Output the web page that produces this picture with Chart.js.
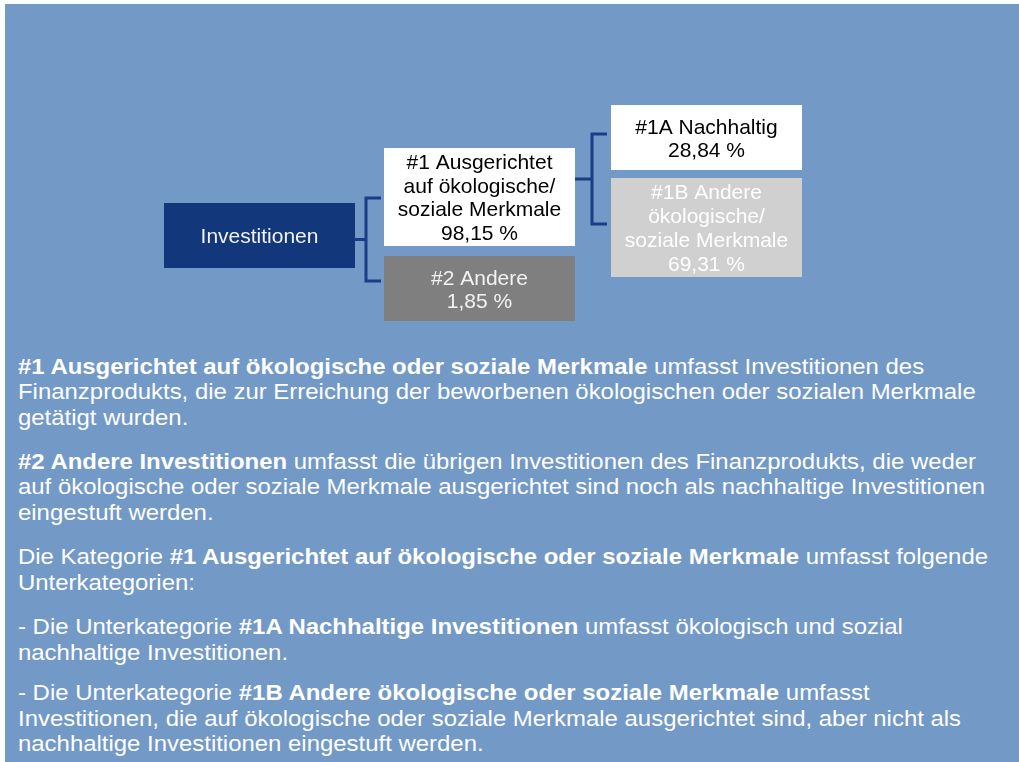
<!DOCTYPE html>
<html lang="de">
<head>
<meta charset="utf-8">
<script src="https://cdn.jsdelivr.net/npm/chart.js@4.4.1/dist/chart.umd.min.js"></script>
<style>
  html, body { margin: 0; padding: 0; background: #ffffff; }
  #page {
    position: absolute; left: 5px; top: 4px; width: 1014px; height: 758px;
    background: #7399c6; overflow: hidden; z-index: 0;
  }
  #diagram { position: absolute; left: 0; top: 0; z-index: 1; }
  .para {
    position: absolute; left: 18px; z-index: 2;
    font-family: "Liberation Sans", Arial, sans-serif;
    font-size: 21.5px; line-height: 25.5px; color: #ffffff;
    white-space: nowrap;
    transform: scaleX(1.113); transform-origin: 0 0;
  }
  .para b { font-weight: bold; }
</style>
</head>
<body>
<div id="page"></div>
<canvas id="diagram" width="1019" height="340"></canvas>

<script>
// Knoten des Baums: Bezeichnung, Anteil (%) und Elternknoten
const nodeLabels = [
  'Investitionen',
  '#1 Ausgerichtet\nauf ökologische/\nsoziale Merkmale',
  '#2 Andere',
  '#1A Nachhaltig',
  '#1B Andere\nökologische/\nsoziale Merkmale'
];
const nodeShares = [null, 98.15, 1.85, 28.84, 69.31];
const nodeParents = [-1, 0, 0, 1, 1];

// Layout der Kästen (in Einheiten der Achsen, 0..1019 x 0..340)
const boxLayout = [
  { x0: 164, x1: 355, y0: 203, y1: 268, fill: '#12387b', text: '#f2f2f2' },
  { x0: 384, x1: 575, y0: 148, y1: 246, fill: '#ffffff', text: '#000000' },
  { x0: 384, x1: 575, y0: 256, y1: 321, fill: '#7f7f7f', text: '#f2f2f2' },
  { x0: 611, x1: 802, y0: 105, y1: 170, fill: '#ffffff', text: '#000000' },
  { x0: 611, x1: 802, y0: 178, y1: 277, fill: '#d0d0d0', text: '#ffffff' }
];
// Verbinder je Elternknoten: Knick-x, obere und untere Stichleitung, Ende vor dem Kind
const linkLayout = {
  0: { xJoin: 366, yTop: 198, yBottom: 281, xEnd: 381 },
  1: { xJoin: 592, yTop: 134, yBottom: 224, xEnd: 607 }
};

function fmtShare(v) {
  return v.toFixed(2).replace('.', ',') + ' %';
}

const treePlugin = {
  id: 'treeBoxes',
  afterDraw(chart) {
    const ctx = chart.ctx;
    const xs = chart.scales.x, ys = chart.scales.y;
    const px = v => xs.getPixelForValue(v);
    const py = v => ys.getPixelForValue(v);

    // Verbindungslinien
    ctx.save();
    ctx.strokeStyle = '#1b3c86';
    ctx.lineWidth = 3;
    Object.keys(linkLayout).forEach(p => {
      const l = linkLayout[p];
      const parent = boxLayout[p];
      const yMid = (l.yTop + l.yBottom) / 2;
      ctx.beginPath();
      ctx.moveTo(px(parent.x1), py(yMid));
      ctx.lineTo(px(l.xJoin), py(yMid));
      ctx.moveTo(px(l.xEnd), py(l.yTop));
      ctx.lineTo(px(l.xJoin), py(l.yTop));
      ctx.lineTo(px(l.xJoin), py(l.yBottom));
      ctx.lineTo(px(l.xEnd), py(l.yBottom));
      ctx.stroke();
    });
    ctx.restore();

    // Kästen mit Text
    nodeLabels.forEach((label, i) => {
      const b = boxLayout[i];
      const x0 = px(b.x0), x1 = px(b.x1), y0 = py(b.y0), y1 = py(b.y1);
      ctx.save();
      ctx.fillStyle = b.fill;
      ctx.fillRect(x0, y0, x1 - x0, y1 - y0);

      const lines = label.split('\n');
      if (nodeShares[i] !== null) lines.push(fmtShare(nodeShares[i]));
      const fs = 21;
      const lh = lines.length > 2 ? 23.7 : 23;
      const cx = (x0 + x1) / 2, cy = (y0 + y1) / 2;
      ctx.font = fs + 'px "Liberation Sans", Arial, sans-serif';
      ctx.fillStyle = b.text;
      ctx.textAlign = 'center';
      ctx.textBaseline = 'alphabetic';
      lines.forEach((t, k) => {
        const base = cy + (k - (lines.length - 1) / 2) * lh + fs * 0.716 / 2;
        ctx.fillText(t, cx, base);
      });
      ctx.restore();
    });
  }
};

new Chart(document.getElementById('diagram'), {
  type: 'scatter',
  data: { datasets: [] },
  options: {
    responsive: false,
    animation: false,
    layout: { padding: 0 },
    plugins: { legend: { display: false }, tooltip: { enabled: false } },
    scales: {
      x: { type: 'linear', min: 0, max: 1019, display: false },
      y: { type: 'linear', min: 0, max: 340, reverse: true, display: false }
    }
  },
  plugins: [treePlugin]
});
</script>

<div class="para" style="top:354.5px">
<b>#1 Ausgerichtet auf ökologische oder soziale Merkmale</b> umfasst Investitionen des<br>
Finanzprodukts, die zur Erreichung der beworbenen ökologischen oder sozialen Merkmale<br>
getätigt wurden.
</div>
<div class="para" style="top:449.5px">
<b>#2 Andere Investitionen</b> umfasst die übrigen Investitionen des Finanzprodukts, die weder<br>
auf ökologische oder soziale Merkmale ausgerichtet sind noch als nachhaltige Investitionen<br>
eingestuft werden.
</div>
<div class="para" style="top:545px">
Die Kategorie <b>#1 Ausgerichtet auf ökologische oder soziale Merkmale</b> umfasst folgende<br>
Unterkategorien:
</div>
<div class="para" style="top:615px">
- Die Unterkategorie <b>#1A Nachhaltige Investitionen</b> umfasst ökologisch und sozial<br>
nachhaltige Investitionen.
</div>
<div class="para" style="top:681px">
- Die Unterkategorie <b>#1B Andere ökologische oder soziale Merkmale</b> umfasst<br>
Investitionen, die auf ökologische oder soziale Merkmale ausgerichtet sind, aber nicht als<br>
nachhaltige Investitionen eingestuft werden.
</div>
</body>
</html>
